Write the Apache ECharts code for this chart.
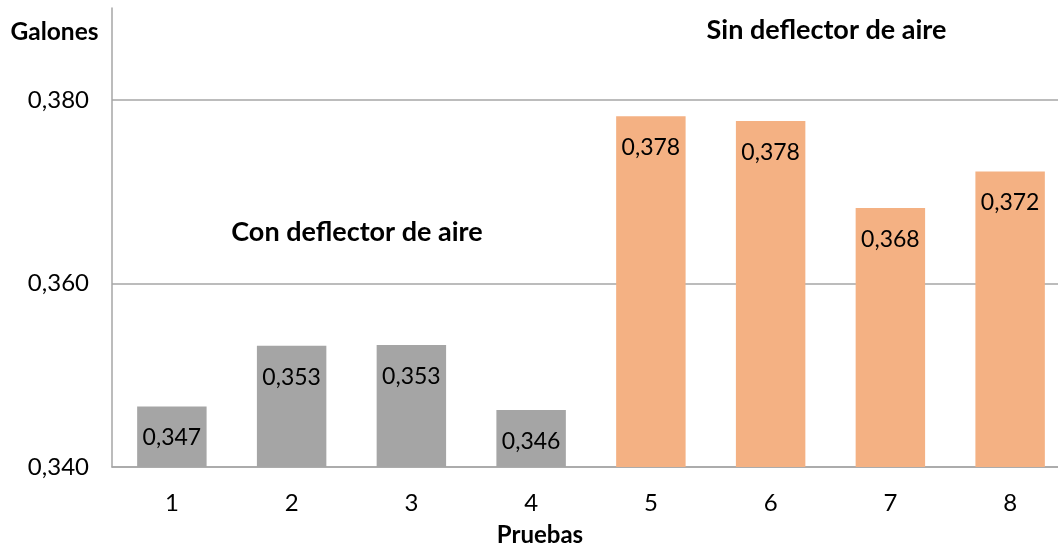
<!DOCTYPE html>
<html>
<head>
<meta charset="utf-8">
<script src="https://cdn.jsdelivr.net/npm/echarts@6/dist/echarts.min.js"></script>
<style>
  html, body { margin: 0; padding: 0; background: #ffffff; }
  #chart { width: 1058px; height: 548px; }
</style>
</head>
<body>
<div id="chart"></div>
<script>
// Consumo de combustible por prueba (galones)
const categories = ['1', '2', '3', '4', '5', '6', '7', '8'];
const galones = [0.3466, 0.3532, 0.3533, 0.3462, 0.3782, 0.3777, 0.3682, 0.3722];
const grupo = ['con', 'con', 'con', 'con', 'sin', 'sin', 'sin', 'sin'];
const yTicks = [0.34, 0.36, 0.38];

const colores = { con: '#A5A5A5', sin: '#F4B183' };
const FONT = 'Lato';

function coma(v) {
  return v.toFixed(3).replace('.', ',');
}

const chart = echarts.init(document.getElementById('chart'), null, { renderer: 'canvas' });

function texto(t, x, y, size) {
  return {
    type: 'text', x: x, y: y,
    style: {
      text: t, fontFamily: FONT, fontWeight: 'bold', fontSize: size, fill: '#000',
      align: 'center', verticalAlign: 'middle'
    }
  };
}

chart.setOption({
  animation: false,
  backgroundColor: '#ffffff',
  grid: { left: 112, right: -12, top: 8, bottom: 81, outerBoundsMode: 'none', containLabel: false },
  xAxis: {
    type: 'category',
    data: categories,
    axisLine: { lineStyle: { color: '#A6A6A6', width: 1.5 } },
    axisTick: { show: false },
    axisLabel: { fontFamily: FONT, fontSize: 24, color: '#000', margin: 24 }
  },
  yAxis: {
    type: 'value',
    min: yTicks[0],
    max: 0.39,
    interval: 0.02,
    axisLine: { show: true, lineStyle: { color: '#A6A6A6', width: 1.5 } },
    axisTick: { show: false },
    axisLabel: {
      fontFamily: FONT, fontSize: 24, color: '#000', margin: 23,
      showMaxLabel: false,
      formatter: function (v) { return yTicks.some(t => Math.abs(t - v) < 1e-9) ? coma(v) : ''; }
    },
    splitLine: {
      lineStyle: { color: ['#A6A6A6', '#A6A6A6', '#A6A6A6', 'rgba(0,0,0,0)'], width: 1.5 }
    }
  },
  graphic: [
    texto('Galones', 54.5, 32, 24.5),
    texto('Pruebas', 540, 535, 24),
    texto('Sin deflector de aire', 826.5, 30, 27),
    texto('Con deflector de aire', 357, 232, 27)
  ],
  series: [{
    type: 'bar',
    barWidth: '58%',
    data: galones.map((v, i) => ({ value: v, itemStyle: { color: colores[grupo[i]] } })),
    label: {
      show: true,
      position: 'insideTop',
      distance: 20,
      fontFamily: FONT,
      fontSize: 23,
      color: '#000',
      formatter: p => coma(p.value)
    }
  }]
});
</script>
</body>
</html>
